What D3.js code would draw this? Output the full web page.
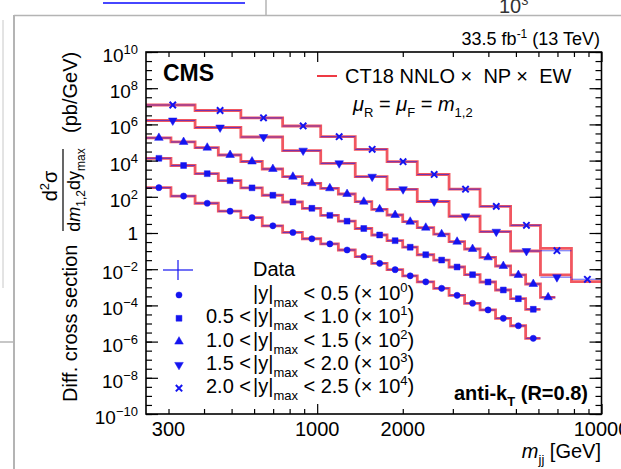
<!DOCTYPE html>
<html lang="en">
<head>
<meta charset="utf-8"/>
<title>Dijet cross section vs m_jj</title>
<script src="https://d3js.org/d3.v7.min.js"></script>
<style>
  body { margin: 0; background: #fff; }
  svg { font-family: "Liberation Sans", Arial, Helvetica, sans-serif; }
</style>
</head>
<body>
<script>
// bin edges in m_jj (GeV)
var fineEdges = [249, 306, 372, 449, 539, 641, 756, 887, 1029, 1187, 1361, 1556, 1761, 1999,
                 2249, 2570, 2910, 3300, 3740, 4240, 4790, 5410, 6100, 6880, 7840];
var coarseEdges = [249, 372, 539, 756, 1029, 1361, 1761, 2249, 2910, 3740, 4790, 6100, 7840, 10000];

// rapidity bins
var yLow  = ["", "0.5", "1.0", "1.5", "2.0"];
var yHigh = ["0.5", "1.0", "1.5", "2.0", "2.5"];
var scaleFactors = [1, 10, 100, 1000, 10000];
var scaleExps = ["0", "1", "2", "3", "4"];

// theory (CT18 NNLO x NP x EW), pb/GeV, before scaling
var theory0 = [3.2e2, 1.1e2, 44, 16, 7.0, 2.5, 1.07, 0.48, 0.25, 0.115, 4.9e-2, 2.1e-2, 9.4e-3, 4.3e-3,
               2.0e-3, 8.8e-4, 3.6e-4, 1.31e-4, 5.6e-5, 1.94e-5, 7.5e-6, 1.52e-6];
var theory1 = [1.34e3, 536, 189, 77.6, 31.4, 12.2, 5.16, 2.32, 0.95, 0.449, 0.177, 7.76e-2, 3.76e-2, 1.64e-2,
               6.3e-3, 3.2e-3, 1.32e-3, 4.97e-4, 1.96e-4, 7.1e-5, 2.34e-5, 6.1e-6];
var theory2 = [1.8e3, 1.07e3, 516, 204, 89, 34.4, 12.9, 5.57, 2.95, 1.43, 0.536, 0.204, 9.9e-2, 4.2e-2,
               1.96e-2, 8.6e-3, 3.3e-3, 1.31e-3, 4.5e-4, 1.5e-4, 4.8e-5, 1.52e-5, 2.8e-6];
var theory3 = [1640, 675, 201, 35.6, 7.1, 1.29, 0.26, 5.5e-2, 8.4e-3, 1.18e-3, 1.01e-4, 4.8e-6];
var theory4 = [1180, 586, 232, 81.7, 20.9, 4.2, 0.87, 0.171, 2.63e-2, 2.95e-3, 2.66e-4, 1.43e-5, 2.04e-7];

// data, pb/GeV, before scaling
var data0 = [3.2e2, 1.1e2, 44, 16, 7.0, 2.5, 1.07, 0.48, 0.25, 0.115, 4.9e-2, 2.1e-2, 9.4e-3, 4.3e-3,
             2.0e-3, 8.8e-4, 3.6e-4, 1.31e-4, 5.6e-5, 1.94e-5, 7.5e-6, 1.52e-6];
var data1 = [1.34e3, 536, 189, 77.6, 31.4, 12.2, 5.16, 2.32, 0.95, 0.449, 0.177, 7.76e-2, 3.76e-2, 1.64e-2,
             6.3e-3, 3.2e-3, 1.32e-3, 4.97e-4, 1.96e-4, 7.1e-5, 2.34e-5, 6.1e-6];
var data2 = [1.8e3, 1.07e3, 516, 204, 89, 34.4, 12.9, 5.57, 2.95, 1.43, 0.536, 0.204, 9.9e-2, 4.2e-2,
             1.96e-2, 8.6e-3, 3.3e-3, 1.31e-3, 4.5e-4, 1.5e-4, 4.8e-5, 1.52e-5, 2.8e-6];
var data3 = [1640, 675, 201, 35.6, 7.1, 1.29, 0.26, 5.5e-2, 8.4e-3, 1.18e-3, 1.01e-4, 3.6e-6];
var data4 = [1180, 586, 232, 81.7, 20.9, 4.2, 0.87, 0.171, 2.63e-2, 2.95e-3, 2.66e-4, 1.05e-5, 2.77e-7];

var xTickLabels = [300, 1000, 2000, 10000];
var yLabelExps = [10, 8, 6, 4, 2, 0, -2, -4, -6, -8, -10];

var w = 621, h = 469;
var pLeft = 146, pRight = 601.5, pTop = 52, pBottom = 414;
var red = "#ee3a44", blue = "#1414f0";

var x = d3.scaleLog().domain([250, 10000]).range([pLeft, pRight]);
var y = d3.scaleLog().domain([1e-10, 1e10]).range([pBottom, pTop]);

var series = [
  {edges: fineEdges.slice(0, 23), theory: theory0, data: data0, k: 0, sym: d3.symbolCircle, size: 30},
  {edges: fineEdges.slice(0, 23), theory: theory1, data: data1, k: 1, sym: d3.symbolSquare, size: 34},
  {edges: fineEdges.slice(0, 24), theory: theory2, data: data2, k: 2, sym: d3.symbolTriangle, size: 32},
  {edges: coarseEdges.slice(0, 13), theory: theory3, data: data3, k: 3, sym: d3.symbolTriangle, size: 32, flip: true},
  {edges: coarseEdges, theory: theory4, data: data4, k: 4, sym: d3.symbolTimes, size: 28, stroke: true}
];

var svg = d3.select("body").append("svg").attr("width", w).attr("height", h);

// bits of the surrounding screenshot
svg.append("line").attr("x1", 103).attr("x2", 245).attr("y1", 3).attr("y2", 3)
   .style("stroke", "#4646ff").style("stroke-width", 2);
svg.append("line").attr("x1", 266).attr("x2", 266).attr("y1", 0).attr("y2", 15)
   .style("stroke", "#b4b4b4").style("stroke-width", 1.5);
svg.append("line").attr("x1", 14).attr("x2", w).attr("y1", 15.5).attr("y2", 15.5)
   .style("stroke", "#b4b4b4").style("stroke-width", 1.5);
svg.append("line").attr("x1", 14).attr("x2", 14).attr("y1", 15).attr("y2", h)
   .style("stroke", "#b4b4b4").style("stroke-width", 2);
svg.append("line").attr("x1", 3).attr("x2", 3).attr("y1", 20).attr("y2", 288)
   .style("stroke", "#c8c8c8").style("stroke-width", 1);
svg.append("line").attr("x1", 0).attr("x2", 14).attr("y1", 342).attr("y2", 342)
   .style("stroke", "#b4b4b4").style("stroke-width", 1.5);
var t3 = svg.append("text").attr("x", 499).attr("y", 13).style("font-size", "20px").style("fill", "#333");
t3.append("tspan").text("10");
t3.append("tspan").attr("dy", -8).style("font-size", "13px").text("3");

svg.append("clipPath").attr("id", "frame")
   .append("rect").attr("x", pLeft).attr("y", pTop).attr("width", pRight - pLeft).attr("height", pBottom - pTop);

var plot = svg.append("g").attr("clip-path", "url(#frame)");

// theory step lines
series.forEach(function(s) {
  var pts = [];
  s.theory.forEach(function(v, i) {
    var yy = y(v * scaleFactors[s.k]);
    pts.push([x(s.edges[i]), yy]);
    pts.push([x(s.edges[i + 1]), yy]);
  });
  plot.append("path").attr("d", d3.line()(pts))
      .style("fill", "none").style("stroke", red).style("stroke-width", 2.8).style("opacity", 0.85);
});

// data: horizontal bars and markers
series.forEach(function(s) {
  var f = scaleFactors[s.k];
  plot.selectAll(null).data(s.data).enter().append("line")
      .attr("x1", function(d, i) { return x(s.edges[i]); })
      .attr("x2", function(d, i) { return x(s.edges[i + 1]); })
      .attr("y1", function(d) { return y(d * f); })
      .attr("y2", function(d) { return y(d * f); })
      .style("stroke", blue).style("stroke-width", 1.2).style("opacity", 0.55);

  var sym = d3.symbol().type(s.sym).size(s.size);
  plot.selectAll(null).data(s.data).enter().append("path")
      .attr("d", sym)
      .attr("transform", function(d, i) {
        var xc = x((s.edges[i] + s.edges[i + 1]) / 2);
        return "translate(" + xc + "," + y(d * f) + ")" + (s.flip ? " rotate(180)" : "");
      })
      .style("fill", s.stroke ? "none" : blue)
      .style("stroke", blue).style("stroke-width", s.stroke ? 2 : 0.5);
});

// axes: ticks pointing inward, like ROOT
var yMajor = yLabelExps.map(function(p) { return Math.pow(10, p); });
var yMinor = d3.range(-20, 21).map(function(k) { return Math.pow(10, k / 2); });
var xMajor = [1000, 10000];
var xMinor = [300, 400, 500, 600, 700, 800, 900, 2000, 3000, 4000, 5000, 6000, 7000, 8000, 9000];

function ticks(axis, vals, len, tx, ty) {
  var g = svg.append("g").attr("transform", "translate(" + tx + "," + ty + ")")
             .call(axis.tickValues(vals).tickSizeInner(-len).tickSizeOuter(0).tickFormat(""));
  g.select(".domain").remove();
  g.selectAll("text").remove();
  g.selectAll(".tick line").style("stroke", "#000").style("stroke-width", 1.2);
}
ticks(d3.axisLeft(y), yMajor, 12, pLeft, 0);
ticks(d3.axisLeft(y), yMinor, 6, pLeft, 0);
ticks(d3.axisRight(y), yMajor, 12, pRight, 0);
ticks(d3.axisRight(y), yMinor, 6, pRight, 0);
ticks(d3.axisBottom(x), xMajor, 10, 0, pBottom);
ticks(d3.axisBottom(x), xMinor, 5, 0, pBottom);
ticks(d3.axisTop(x), xMajor, 10, 0, pTop);
ticks(d3.axisTop(x), xMinor, 5, 0, pTop);

svg.append("rect").attr("x", pLeft).attr("y", pTop).attr("width", pRight - pLeft).attr("height", pBottom - pTop)
   .style("fill", "none").style("stroke", "#000").style("stroke-width", 1.6);

// tick labels
yLabelExps.forEach(function(p) {
  var t = svg.append("text").attr("x", pLeft - 8).attr("text-anchor", "end").style("font-size", "19px");
  if (p === 0) {
    t.attr("y", y(1) + 7).text("1");
  } else {
    t.attr("y", y(Math.pow(10, p)) + 10);
    t.append("tspan").text("10");
    t.append("tspan").attr("dy", -8).style("font-size", "13px").text(p < 0 ? "\u2212" + (-p) : String(p));
  }
});
xTickLabels.forEach(function(v) {
  svg.append("text").attr("x", x(v)).attr("y", 436).attr("text-anchor", "middle")
     .style("font-size", "20px").text(v);
});

// axis titles
var xt = svg.append("text").attr("x", 601).attr("y", 458).attr("text-anchor", "end").style("font-size", "20px");
xt.append("tspan").style("font-style", "italic").text("m");
xt.append("tspan").attr("dy", 6).style("font-size", "13px").text("jj");
xt.append("tspan").attr("dy", -6).text(" [GeV]");

svg.append("text").attr("transform", "translate(77,402) rotate(-90)").style("font-size", "20px")
   .text("Diff. cross section");
var num = svg.append("text").attr("transform", "translate(57,186) rotate(-90)")
   .attr("text-anchor", "middle").style("font-size", "20px");
num.append("tspan").text("d");
num.append("tspan").attr("dy", -8).style("font-size", "13px").text("2");
num.append("tspan").attr("dy", 8).text("\u03c3");
svg.append("line").attr("x1", 63).attr("x2", 63).attr("y1", 149).attr("y2", 231)
   .style("stroke", "#000").style("stroke-width", 1.2);
var den = svg.append("text").attr("transform", "translate(80,190) rotate(-90)")
   .attr("text-anchor", "middle").style("font-size", "18px");
den.append("tspan").text("d");
den.append("tspan").style("font-style", "italic").text("m");
den.append("tspan").attr("dy", 5).style("font-size", "12px").text("1,2");
den.append("tspan").attr("dy", -5).text("dy");
den.append("tspan").attr("dy", 5).style("font-size", "12px").text("max");
svg.append("text").attr("transform", "translate(77,133) rotate(-90)").style("font-size", "20px")
   .text("(pb/GeV)");

// header texts
var lumi = svg.append("text").attr("x", 600).attr("y", 45).attr("text-anchor", "end").style("font-size", "18px");
lumi.append("tspan").text("33.5 fb");
lumi.append("tspan").attr("dy", -7).style("font-size", "12px").text("-1");
lumi.append("tspan").attr("dy", 7).text(" (13 TeV)");

svg.append("text").attr("x", 163).attr("y", 81).style("font-size", "23px").style("font-weight", "bold").text("CMS");

svg.append("line").attr("x1", 317).attr("x2", 337).attr("y1", 76).attr("y2", 76)
   .style("stroke", red).style("stroke-width", 2);
svg.append("text").attr("x", 345).attr("y", 83).style("font-size", "20px")
   .style("white-space", "pre").text("CT18 NNLO \u00d7  NP \u00d7  EW");

var mu = svg.append("text").attr("x", 353).attr("y", 111).style("font-size", "20px");
mu.append("tspan").style("font-style", "italic").text("\u03bc");
mu.append("tspan").attr("dy", 6).style("font-size", "13px").text("R");
mu.append("tspan").attr("dy", -6).text(" = ");
mu.append("tspan").style("font-style", "italic").text("\u03bc");
mu.append("tspan").attr("dy", 6).style("font-size", "13px").text("F");
mu.append("tspan").attr("dy", -6).text(" = ");
mu.append("tspan").style("font-style", "italic").text("m");
mu.append("tspan").attr("dy", 6).style("font-size", "13px").text("1,2");

var ak = svg.append("text").attr("x", 588).attr("y", 400).attr("text-anchor", "end")
   .style("font-size", "20px").style("font-weight", "bold");
ak.append("tspan").text("anti-k");
ak.append("tspan").attr("dy", 6).style("font-size", "13px").text("T");
ak.append("tspan").attr("dy", -6).text(" (R=0.8)");

// legend
svg.append("line").attr("x1", 163).attr("x2", 193).attr("y1", 270).attr("y2", 270)
   .style("stroke", blue).style("stroke-width", 1.2);
svg.append("line").attr("x1", 178).attr("x2", 178).attr("y1", 260).attr("y2", 280)
   .style("stroke", blue).style("stroke-width", 1.2);
svg.append("text").attr("x", 253).attr("y", 276).style("font-size", "20px").text("Data");

series.forEach(function(s, i) {
  var by = 300 + i * 23.3;
  svg.append("path").attr("d", d3.symbol().type(s.sym).size(s.size))
     .attr("transform", "translate(179," + (by - 5) + ")" + (s.flip ? " rotate(180)" : ""))
     .style("fill", s.stroke ? "none" : blue).style("stroke", blue).style("stroke-width", s.stroke ? 2 : 0.5);
  if (yLow[i]) {
    svg.append("text").attr("x", 251).attr("y", by).attr("text-anchor", "end")
       .style("font-size", "20px").text(yLow[i] + " <");
  }
  var t = svg.append("text").attr("x", 253).attr("y", by).style("font-size", "20px");
  t.append("tspan").text("|y|");
  t.append("tspan").attr("dy", 7).style("font-size", "13px").text("max");
  t.append("tspan").attr("dy", -7).text(" < " + yHigh[i] + " (\u00d7 10");
  t.append("tspan").attr("dy", -8).style("font-size", "13px").text(scaleExps[i]);
  t.append("tspan").attr("dy", 8).text(")");
});
</script>
</body>
</html>
